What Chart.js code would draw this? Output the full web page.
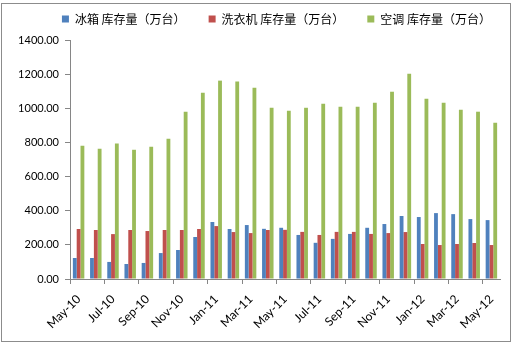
<!DOCTYPE html>
<html>
<head>
<meta charset="utf-8">
<script src="https://cdn.jsdelivr.net/npm/chart.js@4.4.0/dist/chart.umd.min.js"></script>
<style>
    html, body { margin: 0; padding: 0; background: #fff; }
    #wrap { position: relative; width: 514px; height: 346px; }
    #frame { position: absolute; left: 1px; top: 3px; width: 508px; height: 337px; border: 1px solid #8c8c8c; pointer-events: none; }
</style>
</head>
<body>
<div id="wrap">
    <canvas id="kucun" width="514" height="346"></canvas>
    <div id="frame"></div>
</div>
<script>
const months = ["May-10", "Jun-10", "Jul-10", "Aug-10", "Sep-10", "Oct-10", "Nov-10", "Dec-10",
    "Jan-11", "Feb-11", "Mar-11", "Apr-11", "May-11", "Jun-11", "Jul-11", "Aug-11", "Sep-11", "Oct-11",
    "Nov-11", "Dec-11", "Jan-12", "Feb-12", "Mar-12", "Apr-12", "May-12"];

const bingxiang = [123, 123, 100, 88, 94, 152, 170, 246, 334, 293, 316, 294, 300,
    258, 212, 235, 264, 300, 322, 369, 363, 386, 380, 351, 345];
const xiyiji = [293, 287, 263, 287, 281, 287, 287, 293, 310, 275, 269, 287, 288,
    276, 258, 276, 276, 264, 269, 275, 205, 199, 205, 211, 199];
const kongtiao = [781, 763, 793, 757, 775, 822, 980, 1091, 1162, 1157, 1121, 1003, 986,
    1003, 1027, 1009, 1009, 1033, 1097, 1203, 1056, 1033, 992, 980, 915];

const yTicks = [0, 200, 400, 600, 800, 1000, 1200, 1400];

const axisGray = '#868686';

// nudge the legend a little higher than chart.js puts it
const legendUp = {
    id: 'legendUp',
    afterLayout(chart) {
        chart.legend.top -= 5;
        chart.legend.bottom -= 5;
    }
};

const ctx = document.getElementById('kucun').getContext('2d');
const myChart = new Chart(ctx, {
    type: 'bar',
    data: {
        labels: months,
        datasets: [
            { label: '冰箱 库存量（万台）', data: bingxiang, backgroundColor: '#4F81BD' },
            { label: '洗衣机 库存量（万台）', data: xiyiji, backgroundColor: '#C0504D' },
            { label: '空调 库存量（万台）', data: kongtiao, backgroundColor: '#9BBB59' }
        ]
    },
    plugins: [legendUp],
    options: {
        responsive: false,
        animation: false,
        datasets: {
            bar: { categoryPercentage: 0.667, barPercentage: 1.0 }
        },
        layout: { padding: { left: 0, right: 0, top: -12, bottom: 0 } },
        plugins: {
            tooltip: { enabled: false },
            legend: {
                position: 'top',
                align: 'end',
                labels: {
                    boxWidth: 7,
                    boxHeight: 7,
                    padding: 23,
                    color: '#000',
                    font: { family: "'Noto Sans CJK SC', sans-serif", size: 12 }
                }
            }
        },
        scales: {
            x: {
                offset: true,
                border: { color: axisGray },
                grid: {
                    offset: true,
                    drawOnChartArea: false,
                    tickLength: 5,
                    color: (c) => (c.index % 2 === 0 ? axisGray : 'rgba(0,0,0,0)')
                },
                afterFit: (scale) => {
                    scale.height = 67;
                    scale.paddingRight = 14;
                },
                ticks: {
                    autoSkip: false,
                    maxRotation: 45,
                    minRotation: 45,
                    padding: 8,
                    color: '#000',
                    font: { family: "Lato, 'Liberation Sans', sans-serif", size: 12 },
                    callback: function (value, index) {
                        return index % 2 === 0 ? months[index] : '';
                    }
                }
            },
            y: {
                min: 0,
                max: 1400,
                border: { color: axisGray },
                grid: { drawOnChartArea: false, tickLength: 5, color: axisGray },
                afterBuildTicks: (scale) => {
                    scale.ticks = yTicks.map(v => ({ value: v }));
                },
                afterFit: (scale) => {
                    scale.width = 70;
                    scale.paddingTop = 40;
                },
                ticks: {
                    color: '#000',
                    padding: 6,
                    font: { family: "Lato, 'Liberation Sans', sans-serif", size: 11 },
                    callback: (v) => Number(v).toFixed(2)
                }
            }
        }
    }
});
</script>
</body>
</html>
